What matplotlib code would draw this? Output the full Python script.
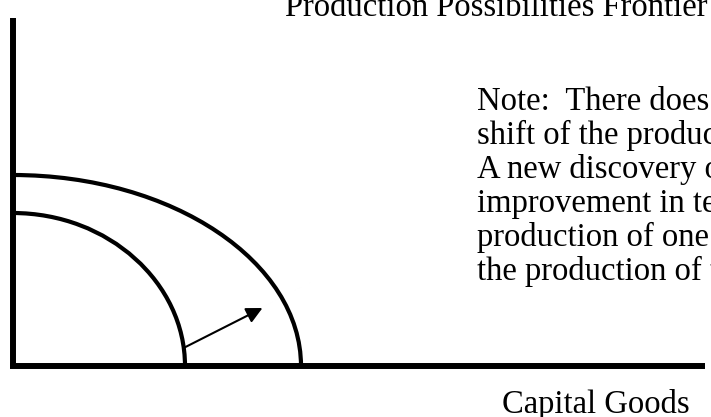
import matplotlib.pyplot as plt
from matplotlib.path import Path
from matplotlib.patches import PathPatch

plt.rcParams['font.family'] = ['Liberation Serif', 'DejaVu Serif']

# intercepts of the two frontiers (capital goods, consumer goods)
ppf_old = (172.5, 153.0)
ppf_new = (288.5, 191.0)
shift_from = (173.0, 19.0)
shift_to = (250.0, 58.0)

title = 'Production Possibilities Frontier'
xlabel = 'Capital Goods'
# the note runs past the right edge of the picture, as in the original
note_lines = [
    'Note:  There does not have',
    'shift of the production possibilities',
    'A new discovery or',
    'improvement in technology',
    'production of one good',
    'the production of the',
]


def ppf_path(a, b, k1=0.56, k2=0.54):
    verts = [(0, b), (k1 * a, b), (a, k2 * b), (a, 0)]
    codes = [Path.MOVETO, Path.CURVE4, Path.CURVE4, Path.CURVE4]
    return Path(verts, codes)


fig = plt.figure(figsize=(7.11, 4.17), dpi=100)
ax = fig.add_axes([0, 0, 1, 1])
ax.set_xlim(-12.5, 698.5)
ax.set_ylim(-51, 366)
ax.axis('off')

# axes of the diagram
ax.plot([0, 0], [0, 348], color='black', lw=4.3, solid_capstyle='butt')
ax.plot([-2.5, 692.5], [0, 0], color='black', lw=4.3, solid_capstyle='butt')

for a, b in (ppf_old, ppf_new):
    ax.add_patch(PathPatch(ppf_path(a, b), facecolor='none', edgecolor='black', lw=3))

ax.annotate('', xy=shift_to, xytext=shift_from,
            arrowprops=dict(arrowstyle='-|>', color='black', lw=1.5,
                            mutation_scale=24, shrinkA=0, shrinkB=0))

fs = 23.5
fig.text(285 / 711, 1 - 16 / 417, title, fontsize=fs, va='baseline')
fig.text(502 / 711, 1 - 413 / 417, xlabel, fontsize=fs, va='baseline')
for i, line in enumerate(note_lines):
    y = 110 + 34 * i
    fig.text(477 / 711, 1 - y / 417, line, fontsize=fs, va='baseline')

fig.savefig('out.png', dpi=100)
